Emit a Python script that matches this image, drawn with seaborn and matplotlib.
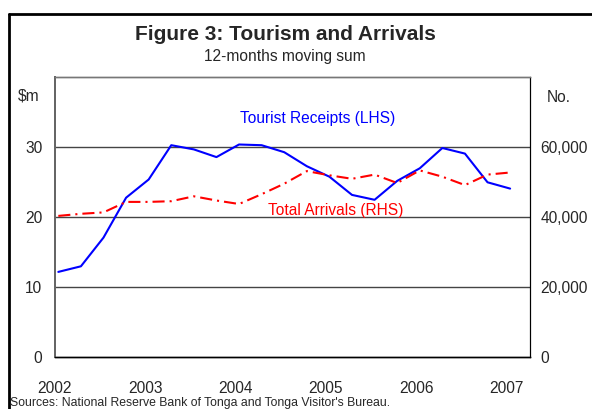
import numpy as np
import pandas as pd
import matplotlib
matplotlib.use("Agg")
import matplotlib.pyplot as plt
import matplotlib.ticker as mticker
from matplotlib.lines import Line2D
import seaborn as sns

# === Data ===
quarters = ["2002Q1", "2002Q2", "2002Q3", "2002Q4",
            "2003Q1", "2003Q2", "2003Q3", "2003Q4",
            "2004Q1", "2004Q2", "2004Q3", "2004Q4",
            "2005Q1", "2005Q2", "2005Q3", "2005Q4",
            "2006Q1", "2006Q2", "2006Q3", "2006Q4",
            "2007Q1"]
receipts = [12.2, 13.0, 17.1, 22.8, 25.4, 30.3, 29.7, 28.6, 30.4, 30.3, 29.3,
            27.3, 25.8, 23.2, 22.5, 25.2, 27.0, 29.9, 29.1, 25.0, 24.1]
arrivals = [40400, 41000, 41400, 44400, 44400, 44600, 46000, 44800, 43800,
            46600, 49600, 53200, 52000, 51000, 52200, 49800, 53400, 51600,
            49200, 52200, 52800]
year_ticks = [2002, 2003, 2004, 2005, 2006, 2007]
left_ticks = [0, 10, 20, 30]
right_ticks = [0, 20000, 40000, 60000]

per = pd.PeriodIndex(quarters, freq="Q")
df = pd.DataFrame({
    "x": per.year + (per.quarter - 1) * 0.25 + 0.04,
    "receipts": receipts,
    "arrivals": arrivals,
})

# === Style ===
sns.set_style("white")
plt.rcParams["font.family"] = ["Liberation Sans", "DejaVu Sans"]
fs = 11.2

fig = plt.figure(figsize=(5.92, 4.09), dpi=100)
W, H = 592, 409
ax = fig.add_axes([54.7 / W, 1 - 357.3 / H, (530 - 54.7) / W, (357.3 - 77.3) / H])
ax2 = ax.twinx()

# gridlines
for v in [10, 20, 30]:
    ax.axhline(v, color="#444444", lw=1.0, zorder=1)

sns.lineplot(data=df, x="x", y="receipts", ax=ax, color="#0000ff", lw=1.5, zorder=3)
sns.lineplot(data=df, x="x", y="arrivals", ax=ax2, color="#ff0000", lw=1.5,
             linestyle=(0, (5.8, 2.4, 1, 2.4)), zorder=3)

ax.set_xlim(2002, 2007.26)
ax.set_ylim(0, 40)
ax2.set_ylim(0, 80000)

ax.set_xticks(year_ticks)
ax.set_xticklabels([str(y) for y in year_ticks], fontsize=fs)
ax.tick_params(axis="x", direction="in", length=3.3, width=0.8, color="#333333", pad=17)
ax.set_yticks(left_ticks)
ax.set_yticklabels([str(v) for v in left_ticks], fontsize=fs)
ax.tick_params(axis="y", length=0, pad=8.8)
ax2.set_yticks(right_ticks)
ax2.yaxis.set_major_formatter(mticker.FuncFormatter(lambda v, p: f"{int(v):,}"))
ax2.tick_params(axis="y", length=0, pad=7.7, labelsize=fs)

ax.set_xlabel("")
ax.set_ylabel("")
ax2.set_ylabel("")

for a in (ax, ax2):
    a.spines["left"].set_color("#666666")
    a.spines["left"].set_linewidth(1.4)
    a.spines["top"].set_color("#777777")
    a.spines["top"].set_linewidth(1.0)
    a.spines["bottom"].set_color("#000000")
    a.spines["bottom"].set_linewidth(1.0)
    a.spines["right"].set_color("#000000")
    a.spines["right"].set_linewidth(0.8)

# series labels
ax.text(2002 + (317.7 - 54.7) / 90.4, 34.1, "Tourist Receipts (LHS)", color="#0000ff",
        fontsize=fs, ha="center", va="center")
ax.text(2002 + (335.8 - 54.7) / 90.4, 20.95, "Total Arrivals (RHS)", color="#ff0000",
        fontsize=fs, ha="center", va="center", zorder=5)

# titles and unit labels
fig.text(285 / W, 1 - 35 / H, "Figure 3: Tourism and Arrivals", fontsize=15,
         fontweight="bold", ha="center", va="center")
fig.text(284.5 / W, 1 - 56.7 / H, "12-months moving sum", fontsize=fs,
         ha="center", va="center")
fig.text(29 / W, 1 - 96 / H, "$m", fontsize=fs, ha="center", va="center")
fig.text(559 / W, 1 - 97 / H, "No.", fontsize=fs, ha="center", va="center")
fig.text(10 / W, 1 - 403 / H, "Sources: National Reserve Bank of Tonga and Tonga Visitor's Bureau.",
         fontsize=8.8, ha="left", va="center")

# outer frame (left and top)
fig.add_artist(Line2D([9 / W, 9 / W], [0, 1 - 14 / H], color="black", lw=2.0,
                      transform=fig.transFigure))
fig.add_artist(Line2D([9 / W, 1], [1 - 14 / H, 1 - 14 / H], color="black", lw=2.0,
                      transform=fig.transFigure))

fig.savefig("out.png", dpi=100)
